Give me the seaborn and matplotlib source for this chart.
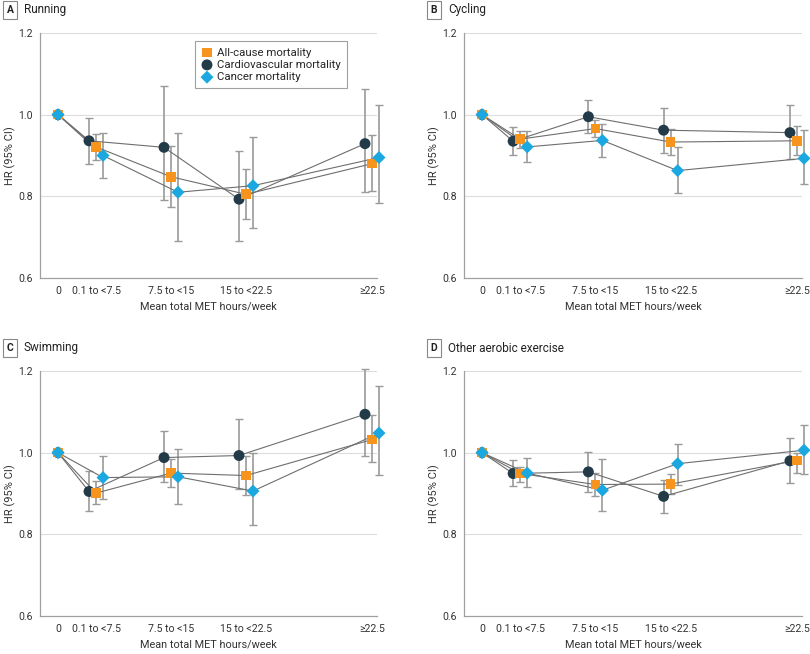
import numpy as np
import pandas as pd
import matplotlib.pyplot as plt
import seaborn as sns

# categories of mean total MET hours/week and where they sit on the x axis
categories = ["0", "0.1 to <7.5", "7.5 to <15", "15 to <22.5", "≥22.5"]
met_values = [0, 3.8, 11.3, 18.8, 31.4]
outcomes = ["All-cause mortality", "Cardiovascular mortality", "Cancer mortality"]

# HR and 95% CI, rows = all-cause, cardiovascular, cancer
running_hr = [[1.0, 0.921, 0.848, 0.805, 0.880],
              [1.0, 0.936, 0.920, 0.793, 0.929],
              [1.0, 0.900, 0.810, 0.826, 0.895]]
running_lo = [[1.0, 0.890, 0.775, 0.744, 0.814],
              [1.0, 0.880, 0.791, 0.690, 0.810],
              [1.0, 0.845, 0.691, 0.722, 0.784]]
running_hi = [[1.0, 0.952, 0.924, 0.867, 0.950],
              [1.0, 0.992, 1.069, 0.912, 1.062],
              [1.0, 0.956, 0.954, 0.945, 1.023]]

cycling_hr = [[1.0, 0.940, 0.966, 0.933, 0.936],
              [1.0, 0.935, 0.995, 0.962, 0.956],
              [1.0, 0.921, 0.937, 0.863, 0.893]]
cycling_lo = [[1.0, 0.919, 0.945, 0.902, 0.900],
              [1.0, 0.902, 0.956, 0.907, 0.891],
              [1.0, 0.885, 0.897, 0.809, 0.831]]
cycling_hi = [[1.0, 0.960, 0.986, 0.966, 0.972],
              [1.0, 0.971, 1.035, 1.017, 1.023],
              [1.0, 0.959, 0.978, 0.922, 0.962]]

swimming_hr = [[1.0, 0.901, 0.950, 0.944, 1.032],
               [1.0, 0.905, 0.988, 0.993, 1.094],
               [1.0, 0.939, 0.941, 0.906, 1.048]]
swimming_lo = [[1.0, 0.875, 0.915, 0.897, 0.976],
               [1.0, 0.858, 0.927, 0.910, 0.992],
               [1.0, 0.887, 0.875, 0.822, 0.945]]
swimming_hi = [[1.0, 0.930, 0.985, 0.992, 1.092],
               [1.0, 0.955, 1.054, 1.082, 1.204],
               [1.0, 0.991, 1.008, 0.998, 1.163]]

other_hr = [[1.0, 0.949, 0.922, 0.923, 0.981],
            [1.0, 0.949, 0.953, 0.893, 0.980],
            [1.0, 0.950, 0.908, 0.973, 1.006]]
other_lo = [[1.0, 0.929, 0.895, 0.899, 0.950],
            [1.0, 0.918, 0.903, 0.853, 0.926],
            [1.0, 0.915, 0.857, 0.922, 0.948]]
other_hi = [[1.0, 0.966, 0.950, 0.947, 0.998],
            [1.0, 0.981, 1.002, 0.933, 1.037],
            [1.0, 0.986, 0.984, 1.021, 1.067]]

panels = [("A", "Running", running_hr, running_lo, running_hi),
          ("B", "Cycling", cycling_hr, cycling_lo, cycling_hi),
          ("C", "Swimming", swimming_hr, swimming_lo, swimming_hi),
          ("D", "Other aerobic exercise", other_hr, other_lo, other_hi)]

palette = {"All-cause mortality": "#F7941D",
           "Cardiovascular mortality": "#233B49",
           "Cancer mortality": "#1BA8E0"}
markers = {"All-cause mortality": "s",
           "Cardiovascular mortality": "o",
           "Cancer mortality": "D"}
sizes = {"All-cause mortality": 48, "Cardiovascular mortality": 62, "Cancer mortality": 44}
dodge = {"All-cause mortality": 0.0, "Cardiovascular mortality": -0.7, "Cancer mortality": 0.7}
draw_order = ["Cardiovascular mortality", "All-cause mortality", "Cancer mortality"]

sns.set_style("white")
plt.rcParams["font.family"] = ["Roboto", "DejaVu Sans"]

fig = plt.figure(figsize=(8.1, 6.54), dpi=100)
W, H = 810, 654
boxes = [(40, 33, 377, 278), (464, 33, 802, 278),
         (40, 371, 377, 616), (464, 371, 802, 616)]

for (letter, title, hr, lo, hi), (x0, y0, x1, y1) in zip(panels, boxes):
    ax = fig.add_axes([x0 / W, 1 - y1 / H, (x1 - x0) / W, (y1 - y0) / H])
    rows = []
    for i, name in enumerate(outcomes):
        for j, cat in enumerate(categories):
            x = met_values[j] + (dodge[name] if j > 0 else 0.0)
            rows.append({"outcome": name, "category": cat, "x": x,
                         "hr": hr[i][j], "lo": lo[i][j], "hi": hi[i][j]})
    df = pd.DataFrame(rows)

    for y in [0.8, 1.0, 1.2]:
        ax.axhline(y, color="#dcdcdc", lw=0.8, zorder=0)

    for name in draw_order:
        d = df[(df.outcome == name) & (df.category != "0")]
        eb = ax.errorbar(d.x, d.hr, yerr=[d.hr - d.lo, d.hi - d.hr], fmt="none",
                         ecolor="#9a9a9a", elinewidth=1.2, capsize=3, capthick=1.0, zorder=1)
        for art in eb.lines[1] + eb.lines[2]:
            art.set_clip_on(False)
    sns.lineplot(data=df, x="x", y="hr", units="outcome", estimator=None, sort=False,
                 color="#6e6e6e", lw=0.8, ax=ax, zorder=2, legend=False, clip_on=False)
    for name in draw_order:
        d = df[df.outcome == name]
        sns.scatterplot(data=d, x="x", y="hr", marker=markers[name], s=sizes[name],
                        color=palette[name], edgecolor="none", linewidth=0,
                        ax=ax, zorder=3, label=name if letter == "A" else None,
                        legend=False, clip_on=False)

    ax.set_xlim(-1.8, 31.9)
    ax.set_ylim(0.6, 1.2)
    ax.set_xticks(met_values)
    ax.set_xticklabels(categories)
    ax.set_yticks([0.6, 0.8, 1.0, 1.2])
    ax.set_yticklabels(["0.6", "0.8", "1.0", "1.2"])
    ax.tick_params(axis="both", length=3, width=0.8, color="#999999",
                   labelsize=7.6, labelcolor="#333333", pad=2)
    ax.tick_params(axis="x", pad=3)
    sns.despine(ax=ax)
    for s in ["left", "bottom"]:
        ax.spines[s].set_color("#a0a0a0")
        ax.spines[s].set_linewidth(0.9)
    ax.set_xlabel("Mean total MET hours/week", fontsize=7.8, color="#333333", va="center")
    ax.xaxis.set_label_coords(0.5, -28 / (y1 - y0))
    ax.set_ylabel("HR (95% CI)", fontsize=8, color="#333333", va="center")
    ax.yaxis.set_label_coords(-30 / (x1 - x0), 0.5)
    ax.grid(False)

    fig.text((x0 - 30) / W, 1 - (y0 - 23) / H, letter, fontsize=7.5, fontweight="bold",
             color="#222222", ha="center", va="center",
             bbox=dict(boxstyle="square,pad=0.35", fc="white", ec="#888888", lw=0.8))
    fig.text((x0 - 16) / W, 1 - (y0 - 23) / H, title, fontsize=8.5, color="#222222",
             ha="left", va="center")

    if letter == "A":
        handles, labels = ax.get_legend_handles_labels()
        order = [labels.index(n) for n in outcomes]
        leg = ax.legend([handles[k] for k in order], [labels[k] for k in order],
                        loc="upper left", bbox_to_anchor=(0.46, 0.966),
                        fontsize=8.2, frameon=True, fancybox=False, handletextpad=0.4,
                        borderpad=0.55, labelspacing=0.2, handlelength=1.0,
                        borderaxespad=0)
        leg.get_frame().set_edgecolor("#888888")
        leg.get_frame().set_linewidth(0.8)

fig.savefig("out.png", dpi=100)
